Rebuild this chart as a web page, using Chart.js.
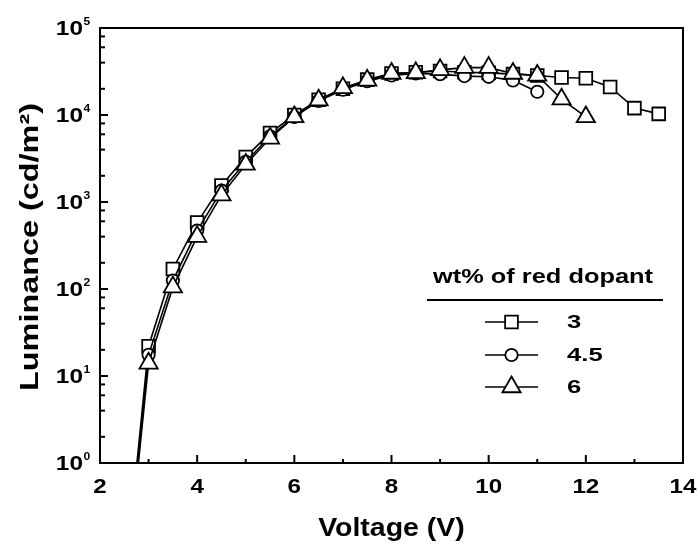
<!DOCTYPE html>
<html><head><meta charset="utf-8">
<script src="https://cdn.jsdelivr.net/npm/chart.js@4.4.0/dist/chart.umd.min.js"></script>
<style>html,body{margin:0;padding:0;background:#fff}canvas{display:block}</style>
</head><body>
<canvas id="c" width="699" height="545"></canvas>
<script>
// ---- data ----
const voltage3 = [2.76, 3, 3.5, 4, 4.5, 5, 5.5, 6, 6.5, 7, 7.5, 8, 8.5, 9, 9.5, 10, 10.5, 11, 11.5, 12, 12.5, 13, 13.5];
const lum3     = [1, 22, 170, 580, 1550, 3300, 6200, 10000, 15000, 20000, 25500, 30000, 31000, 32000, 31000, 30500, 29500, 28500, 27000, 26500, 21000, 12000, 10300];
const voltage45 = [2.78, 3, 3.5, 4, 4.5, 5, 5.5, 6, 6.5, 7, 7.5, 8, 8.5, 9, 9.5, 10, 10.5, 11];
const lum45     = [1, 17.5, 125, 470, 1350, 2900, 5700, 9500, 14500, 19500, 24500, 28500, 30000, 29500, 28000, 27500, 25000, 18500];
const voltage6 = [2.79, 3, 3.5, 4, 4.5, 5, 5.5, 6, 6.5, 7, 7.5, 8, 8.5, 9, 9.5, 10, 10.5, 11, 11.5, 12];
const lum6     = [1, 14, 105, 400, 1200, 2700, 5400, 9500, 14800, 20500, 25000, 30000, 30500, 33000, 35000, 35000, 30000, 28500, 15200, 9500];
const seriesNames = ['3', '4.5', '6'];
const xTickLabels = [2, 4, 6, 8, 10, 12, 14];
const yTickExponents = [0, 1, 2, 3, 4, 5];
const legendTitle = 'wt% of red dopant';
const xTitle = 'Voltage (V)';
const yTitle = 'Luminance (cd/m\u00B2)';

function pts(xs, ys){ return xs.map((v,i)=>({x:v, y:ys[i]})); }
function radii(n, r){ return Array.from({length:n}, (_,i)=> i===0 ? 0 : r); }

const styles = [
  {pointStyle:'rect', radius:9},
  {pointStyle:'circle', radius:6.2},
  {pointStyle:'triangle', radius:10.5}
];

function mkSet(label, xs, ys, st, order){
  return {
    label, data: pts(xs, ys), order,
    borderColor:'#000', borderWidth:1.6, backgroundColor:'#fff',
    pointStyle: st.pointStyle, pointRadius: radii(xs.length, st.radius),
    pointHoverRadius: radii(xs.length, st.radius),
    pointBackgroundColor:'#fff', pointBorderColor:'#000', pointBorderWidth:1.8,
    tension:0, fill:false
  };
}

function stretchText(ctx, s, x, y, font, sx, align, baseline){
  ctx.save();
  ctx.font = font; ctx.textBaseline = baseline; ctx.textAlign = 'left';
  const w = ctx.measureText(s).width * sx;
  const left = align === 'center' ? x - w/2 : (align === 'right' ? x - w : x);
  ctx.translate(left, y); ctx.scale(sx, 1);
  ctx.fillText(s, 0, 0);
  ctx.restore();
  return w;
}

function marker(ctx, st, x, y){
  ctx.save();
  ctx.fillStyle = '#fff'; ctx.strokeStyle = '#000'; ctx.lineWidth = 1.8;
  if (Chart.helpers && Chart.helpers.drawPoint) {
    Chart.helpers.drawPoint(ctx, {pointStyle: st.pointStyle, radius: st.radius, rotation: 0, borderWidth: 1.8}, x, y);
  } else {
    ctx.beginPath();
    const r = st.radius;
    if (st.pointStyle === 'rect') { const s = r*Math.SQRT1_2; ctx.rect(x-s, y-s, 2*s, 2*s); }
    else if (st.pointStyle === 'circle') { ctx.arc(x, y, r, 0, Math.PI*2); }
    else { ctx.moveTo(x, y-r); ctx.lineTo(x+r*0.866, y+r/2); ctx.lineTo(x-r*0.866, y+r/2); ctx.closePath(); }
    ctx.fill(); ctx.stroke();
  }
  ctx.restore();
}

const FONT = '"Liberation Sans", Arial, sans-serif';

const framePlugin = {
  id: 'frame',
  afterDraw(chart){
    const {ctx, chartArea:a} = chart;
    const xs = chart.scales.x, ys = chart.scales.y;
    ctx.save();
    ctx.strokeStyle = '#000'; ctx.fillStyle = '#000';
    ctx.lineWidth = 2;
    ctx.strokeRect(a.left, a.top, a.right - a.left, a.bottom - a.top);
    // x ticks (inward)
    for (let v = xTickLabels[0]; v <= xTickLabels[xTickLabels.length-1]; v += 1) {
      const px = xs.getPixelForValue(v);
      const len = (v % 2 === 0) ? 8 : 4;
      ctx.beginPath(); ctx.moveTo(px, a.bottom); ctx.lineTo(px, a.bottom - len); ctx.stroke();
    }
    // y ticks (inward)
    for (let e = yTickExponents[0]; e < yTickExponents[yTickExponents.length-1]; e++) {
      [1,2,4,6,8].forEach(m => {
        const py = ys.getPixelForValue(m * Math.pow(10, e));
        const len = m === 1 ? 8 : 5;
        ctx.beginPath(); ctx.moveTo(a.left, py); ctx.lineTo(a.left + len, py); ctx.stroke();
      });
    }
    // x tick labels
    xTickLabels.forEach(v => {
      stretchText(ctx, String(v), xs.getPixelForValue(v), 477, 'bold 21px ' + FONT, 1.15, 'center', 'top');
    });
    // y tick labels 10^n
    yTickExponents.forEach(e => {
      const py = ys.getPixelForValue(Math.pow(10, e));
      stretchText(ctx, '10', 83, py + 1.5, 'bold 20px ' + FONT, 1.22, 'right', 'middle');
      stretchText(ctx, String(e), 83.5, py - 6.5, 'bold 11px ' + FONT, 1.1, 'left', 'middle');
    });
    // axis titles
    stretchText(ctx, xTitle, (a.left + a.right)/2, 536, 'bold 25px ' + FONT, 1.14, 'center', 'alphabetic');
    ctx.save();
    ctx.translate(31, 247); ctx.rotate(-Math.PI/2);
    ctx.font = 'bold 26px ' + FONT;
    const yw = ctx.measureText(yTitle).width;
    stretchText(ctx, yTitle, 0, 0, 'bold 26px ' + FONT, 288/yw, 'center', 'middle');
    ctx.restore();
    // legend
    ctx.font = 'bold 21px ' + FONT;
    const tw = ctx.measureText(legendTitle).width;
    stretchText(ctx, legendTitle, 543, 283, 'bold 21px ' + FONT, 220/tw, 'center', 'alphabetic');
    ctx.lineWidth = 1.8;
    ctx.beginPath(); ctx.moveTo(427, 300); ctx.lineTo(663, 300); ctx.stroke();
    const rows = [322, 355, 387];
    seriesNames.forEach((name, i) => {
      const y = rows[i];
      ctx.lineWidth = 1.6;
      ctx.beginPath(); ctx.moveTo(485, y); ctx.lineTo(538, y); ctx.stroke();
      marker(ctx, styles[i], 511.5, y);
      ctx.fillStyle = '#000';
      stretchText(ctx, name, 567, y + 1, 'bold 19px ' + FONT, 1.35, 'left', 'middle');
    });
    ctx.restore();
  }
};

new Chart(document.getElementById('c'), {
  type: 'line',
  data: {
    datasets: [
      mkSet(seriesNames[0], voltage3, lum3, styles[0], 2),
      mkSet(seriesNames[1], voltage45, lum45, styles[1], 1),
      mkSet(seriesNames[2], voltage6, lum6, styles[2], 0)
    ]
  },
  options: {
    responsive: false, animation: false, devicePixelRatio: 1,
    layout: { padding: { left: 100, top: 28, right: 16, bottom: 82 } },
    plugins: { legend: { display: false }, tooltip: { enabled: false } },
    scales: {
      x: { type: 'linear', min: 2, max: 14, display: false },
      y: { type: 'logarithmic', min: 1, max: 100000, display: false }
    }
  },
  plugins: [framePlugin]
});
</script>
</body></html>
